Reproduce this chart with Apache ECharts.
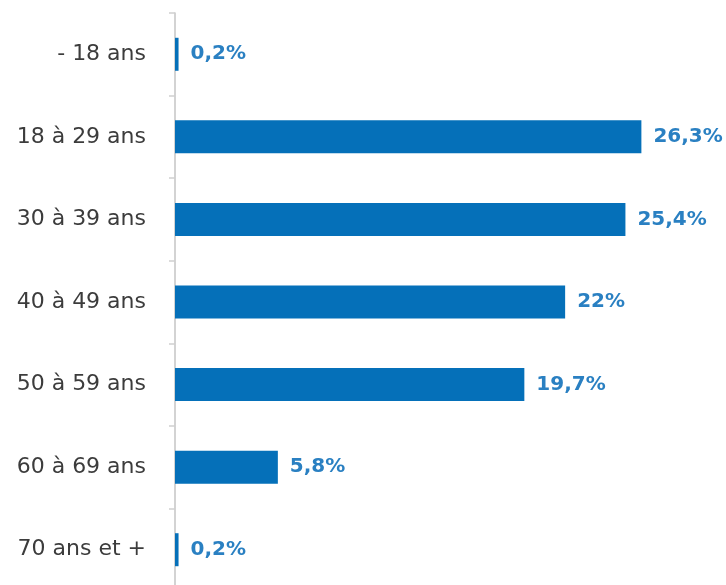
<!DOCTYPE html>
<html>
<head>
<meta charset="utf-8">
<script src="https://cdn.jsdelivr.net/npm/echarts@6/dist/echarts.min.js"></script>
<style>
  html, body { margin: 0; padding: 0; background: #ffffff; }
  #chart { width: 726px; height: 585px; }
</style>
</head>
<body>
<div id="chart"></div>
<script>
// Age groups, top to bottom
const categories = ['- 18 ans', '18 à 29 ans', '30 à 39 ans', '40 à 49 ans', '50 à 59 ans', '60 à 69 ans', '70 ans et +'];
// Share of each age group (%)
const values = [0.2, 26.3, 25.4, 22, 19.7, 5.8, 0.2];
const valueLabels = ['0,2%', '26,3%', '25,4%', '22%', '19,7%', '5,8%', '0,2%'];

const chart = echarts.init(document.getElementById('chart'));
chart.setOption({
  animation: false,
  backgroundColor: '#ffffff',
  grid: { left: 175, top: 13, width: 532, height: 578, containLabel: false, outerBoundsMode: 'none' },
  xAxis: {
    type: 'value',
    min: 0,
    max: 30,
    show: false
  },
  yAxis: {
    type: 'category',
    inverse: true,
    data: categories,
    axisLine: { show: true, lineStyle: { color: '#c4c4c4', width: 1.5 } },
    axisTick: { show: true, inside: false, length: 6, lineStyle: { color: '#d0d0d0', width: 1.5 } },
    axisLabel: {
      margin: 29,
      color: '#3c3c3c',
      fontSize: 22,
      fontFamily: 'DejaVu Sans, sans-serif'
    },
    splitLine: { show: false }
  },
  series: [{
    type: 'bar',
    data: values,
    barWidth: 33,
    itemStyle: { color: '#0570b9' },
    label: {
      show: true,
      position: 'right',
      distance: 12,
      color: '#2a80c2',
      fontSize: 20,
      fontWeight: 'bold',
      fontFamily: 'DejaVu Sans, sans-serif',
      formatter: p => valueLabels[p.dataIndex]
    }
  }]
});
</script>
</body>
</html>
